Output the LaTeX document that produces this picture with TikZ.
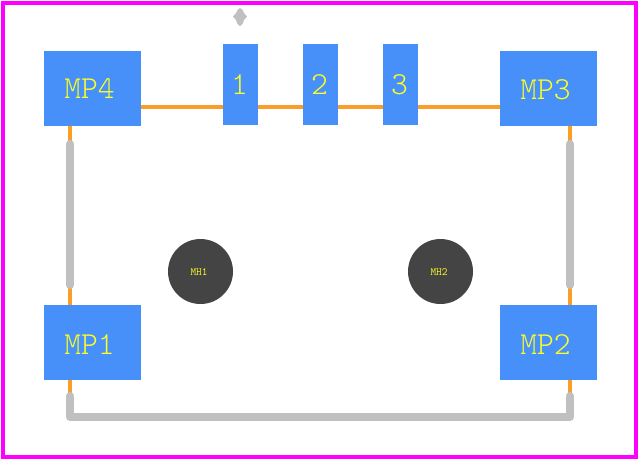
\documentclass[tikz,border=0pt]{standalone}
\usetikzlibrary{calc}
\definecolor{padblue}{HTML}{4790F9}
\definecolor{trace}{HTML}{FA9E28}
\definecolor{silk}{HTML}{C0C0C0}
\definecolor{outline}{HTML}{FF00FF}
\definecolor{hole}{HTML}{444444}
\definecolor{labelyellow}{HTML}{FFFF22}
\tikzset{
  x=1pt,y=-1pt,
  wide/.style={draw=none,fill=padblue,minimum width=97pt,minimum height=75pt,inner sep=0pt,outer sep=0pt},
  narrow/.style={draw=none,fill=padblue,minimum width=35pt,minimum height=81pt,inner sep=0pt,outer sep=0pt},
  mounthole/.style={circle,draw=none,fill=hole,minimum size=65pt,inner sep=0pt,outer sep=0pt},
  padtext/.style={text=labelyellow,font=\fontseries{l}\ttfamily\fontsize{32}{32}\selectfont,inner sep=0pt},
  holetext/.style={text=labelyellow,font=\ttfamily\fontsize{11}{11}\selectfont,inner sep=0pt},
  wire/.style={draw=trace,line width=4pt},
  silkline/.style={draw=silk,line width=8pt,line cap=round,line join=round},
}
\begin{document}
\begin{tikzpicture}
\useasboundingbox (0,0) rectangle (640,461);
\fill[white] (0,0) rectangle (640,461);
\draw[draw=outline,line width=4pt] (3,3) rectangle (636,457);
% anchor points
\coordinate (wtl) at (141,107);
\coordinate (wtr) at (500,107);
\coordinate (wl1) at (70,126);
\coordinate (wl2) at (70,305);
\coordinate (wl3) at (70,380);
\coordinate (wl4) at (70,396);
\coordinate (wr1) at (570,126);
\coordinate (wr2) at (570,305);
\coordinate (wr3) at (570,380);
\coordinate (wr4) at (570,396);
\coordinate (sl1) at (70,144);
\coordinate (sl2) at (70,285);
\coordinate (sr1) at (570,144);
\coordinate (sr2) at (570,285);
\coordinate (sbl) at (70,417);
\coordinate (sbr) at (570,417);
% traces
\draw[wire] (wtl) -- (wtr);
\draw[wire] (wl1) -- (wl2);
\draw[wire] (wl3) -- (wl4);
\draw[wire] (wr1) -- (wr2);
\draw[wire] (wr3) -- (wr4);
% pads
\node[wide] (mp4) at (92.5,88.5) {};
\node[wide] (mp3) at (548.5,88.5) {};
\node[wide] (mp1) at (92.5,342.5) {};
\node[wide] (mp2) at (548.5,342.5) {};
\node[narrow] (p1) at (240.5,84.5) {};
\node[narrow] (p2) at (320.5,84.5) {};
\node[narrow] (p3) at (400.5,84.5) {};
% silkscreen
\draw[silkline] (sl1) -- (sl2);
\draw[silkline] (sr1) -- (sr2);
\draw[silkline] (wl4) -- (sbl) -- (sbr) -- (wr4);
\fill[silk] (240,8) -- (242.5,10) -- (244,13) -- (247,16.5) -- (244,20) -- (242.5,24) -- (240,26) -- (237.5,24) -- (236,20) -- (233,16.5) -- (236,13) -- (237.5,10) -- cycle;
% holes
\node[mounthole] (mh1) at (200.5,271.5) {};
\node[mounthole] (mh2) at (440.5,271.5) {};
% labels
\node[padtext] (tmp4) at (89.5,89) {MP4};
\node[padtext] (tmp3) at (545.5,90) {MP3};
\node[padtext] (tmp1) at (89.5,344.5) {MP1};
\node[padtext] (tmp2) at (545.5,344.5) {MP2};
\node[padtext] (t1) at (239.5,85) {1};
\node[padtext] (t2) at (319.5,85) {2};
\node[padtext] (t3) at (399.5,85) {3};
\node[holetext] (tmh1) at (199,272) {MH1};
\node[holetext] (tmh2) at (439,272) {MH2};
\end{tikzpicture}
\end{document}
